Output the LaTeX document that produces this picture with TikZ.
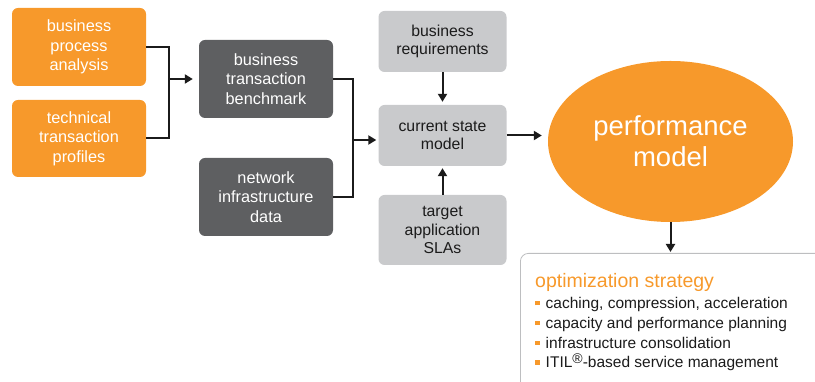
\documentclass[tikz,border=0pt]{standalone}
\usepackage{fontspec}
\setmainfont{Liberation Sans}
\usetikzlibrary{arrows.meta,shapes.geometric,positioning}
\definecolor{pmOrange}{HTML}{F7992B}
\definecolor{pmDark}{HTML}{5E5F61}
\definecolor{pmLight}{HTML}{C9CACC}
\definecolor{pmEdge}{HTML}{BDBEC0}
\definecolor{pmInk}{HTML}{1B1B1B}

\tikzset{
  pmbox/.style={rounded corners=6pt, inner sep=0, align=center,
    font=\fontsize{16.3}{19.5}\selectfont},
  srcbox/.style={pmbox, fill=pmOrange, text=white},
  datbox/.style={pmbox, fill=pmDark, text=white},
  inbox/.style={pmbox, fill=pmLight, text=pmInk,
    font=\fontsize{15.8}{18.5}\selectfont},
  link/.style={line width=2pt, pmInk},
  flow/.style={link, -{Triangle[length=8pt,width=9pt]}},
}
\newcommand{\optbul}{\textcolor{pmOrange}{\rule[0.2em]{0.28em}{0.28em}}\hspace{0.4em}}

\begin{document}
\begin{tikzpicture}[x=1pt, y=1pt]

\useasboundingbox (0,0) rectangle (815,382);
\clip (0,0) rectangle (815,382);

% --- inputs (orange) ---
\node[srcbox, minimum width=134, minimum height=78] (bpa) at (79,335)
  {business\\process\\analysis};
\node[srcbox, minimum width=134, minimum height=77] (ttp) at (79,243.5)
  {technical\\transaction\\profiles};

% --- derived data (dark) ---
\node[datbox, minimum width=134, minimum height=78] (btb) at (266,303)
  {business\\transaction\\benchmark};
\node[datbox, minimum width=134, minimum height=78] (nid) at (266,185)
  {network\\infrastructure\\data};

% --- model inputs (light) ---
\node[inbox, minimum width=128, minimum height=61] (brq) at (442.5,340.5)
  {business\\requirements};
\node[inbox, minimum width=128, minimum height=61] (csm) at (442.5,246.5)
  {current state\\model};
\node[inbox, minimum width=128, minimum height=70] (tas) at (442.5,152)
  {target\\application\\SLAs};

% --- performance model ---
\node[ellipse, fill=pmOrange, text=white, inner sep=0,
      minimum width=245, minimum height=161, align=center,
      font=\fontsize{27.5}{31}\selectfont] (perf) at (670.5,240.5)
  {performance\\model};

% --- optimization strategy ---
\node[draw=pmEdge, line width=0.8pt, rounded corners=8pt, anchor=north west,
      minimum width=320, minimum height=160] (opt) at (520,129) {};
\node[anchor=base west, inner sep=0, text=pmOrange,
      font=\fontsize{19.5}{22}\selectfont] (optT) at (535,94)
  {optimization strategy};
\node[anchor=north west, inner sep=0, align=left, text=pmInk,
      font=\fontsize{15.5}{19.8}\selectfont] (optL) at (535,85)
  {\optbul caching, compression, acceleration\\
   \optbul capacity and performance planning\\
   \optbul infrastructure consolidation\\
   \optbul ITIL{\fontsize{14}{14}\selectfont\raisebox{0.3em}{®}}-based service management};

% --- connectors ---
\coordinate (jA) at (169,303);
\draw[link] (bpa.east) -| (jA);
\draw[link] (ttp.east) -| (jA);
\draw[flow, shorten >=6pt] (jA) -- (btb.west);

\coordinate (jB) at (353,242);
\draw[link] (btb.east) -| (jB);
\draw[link] (nid.east) -| (jB);
\draw[flow, shorten >=2pt] (jB) -- (jB -| csm.west);

\draw[flow, shorten >=3pt] (brq.south) -- (csm.north);
\draw[flow, shorten >=2pt] (tas.north) -- (csm.south);
\draw[flow, shorten >=6pt] (csm.east) -- (perf.west |- csm.east);
\draw[flow, shorten >=1pt] (perf.south) -- (perf.south |- opt.north);

\end{tikzpicture}
\end{document}
